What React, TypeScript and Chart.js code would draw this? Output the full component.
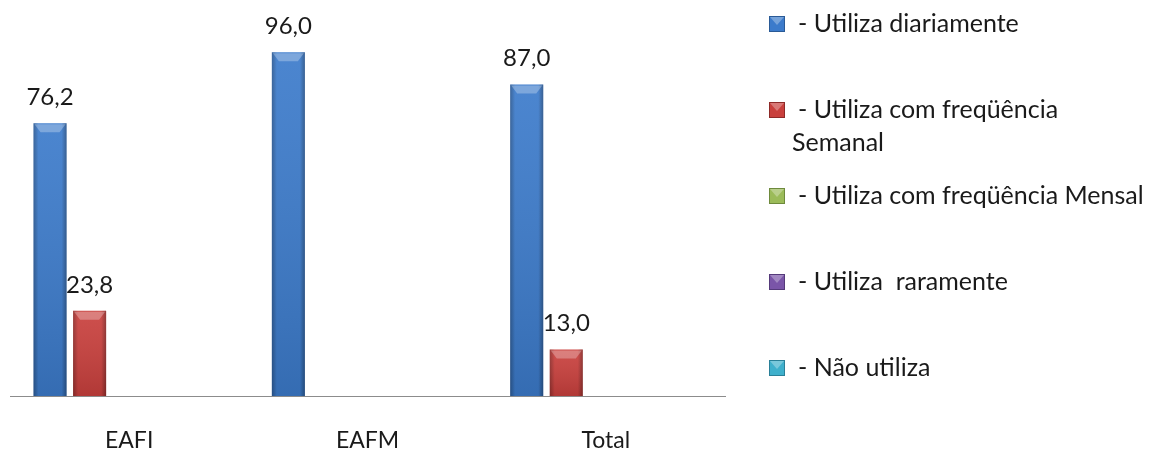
import React, { useEffect, useRef } from "react";
import { Chart, registerables } from "chart.js";

Chart.register(...registerables);

const categories = ["EAFI", "EAFM", "Total"];
const seriesLabels = [
  "- Utiliza diariamente",
  "- Utiliza com freqüência\nSemanal",
  "- Utiliza com freqüência Mensal",
  "- Utiliza  raramente",
  "- Não utiliza",
];
const diariamente = [76.2, 96.0, 87.0];
const semanal = [23.8, null, 13.0];
const mensal = [null, null, null];
const raramente = [null, null, null];
const naoUtiliza = [null, null, null];
const seriesColors = ["#3C7BCB", "#C9403D", "#9BBB59", "#7A55A8", "#3FB0CC"];
const seriesBorders = ["#2A5A96", "#8E2A28", "#6E8A3C", "#553A7A", "#2A8098"];

const FONT = "Lato, 'Open Sans', sans-serif";

const bevelPlugin = {
  id: "bevel",
  afterDatasetsDraw(chart: any) {
    const ctx = chart.ctx;
    chart.data.datasets.forEach((ds: any, di: number) => {
      const meta = chart.getDatasetMeta(di);
      meta.data.forEach((bar: any, i: number) => {
        const v = ds.data[i];
        if (v === null || v === undefined) return;
        const { x, y, width, base } = bar.getProps(["x", "y", "width", "base"], true);
        const l = x - width / 2;
        const r = x + width / 2;
        ctx.save();
        const g = ctx.createLinearGradient(l, 0, r, 0);
        g.addColorStop(0, "rgba(0,0,0,0.28)");
        g.addColorStop(0.15, "rgba(0,0,0,0)");
        g.addColorStop(0.85, "rgba(0,0,0,0)");
        g.addColorStop(1, "rgba(0,0,0,0.32)");
        ctx.fillStyle = g;
        ctx.fillRect(l, y, width, base - y);
        const gv = ctx.createLinearGradient(0, y, 0, base);
        gv.addColorStop(0, "rgba(255,255,255,0.08)");
        gv.addColorStop(1, "rgba(0,0,0,0.12)");
        ctx.fillStyle = gv;
        ctx.fillRect(l, y, width, base - y);
        ctx.beginPath();
        ctx.moveTo(l + 1, y + 1);
        ctx.lineTo(r - 1, y + 1);
        ctx.lineTo(r - 7, y + 9);
        ctx.lineTo(l + 7, y + 9);
        ctx.closePath();
        ctx.fillStyle = "rgba(255,255,255,0.28)";
        ctx.fill();
        ctx.restore();
      });
    });
  },
};

const valueLabelPlugin = {
  id: "valueLabels",
  afterDatasetsDraw(chart: any) {
    const ctx = chart.ctx;
    ctx.save();
    ctx.font = `24px ${FONT}`;
    ctx.fillStyle = "#1a1a1a";
    ctx.textAlign = "center";
    ctx.textBaseline = "middle";
    chart.data.datasets.forEach((ds: any, di: number) => {
      const meta = chart.getDatasetMeta(di);
      meta.data.forEach((bar: any, i: number) => {
        const v = ds.data[i];
        if (v === null || v === undefined) return;
        const { x, y } = bar.getProps(["x", "y"], true);
        ctx.fillText(v.toFixed(1).replace(".", ","), x, y - 26);
      });
    });
    ctx.restore();
  },
};

const legendPlugin = {
  id: "sideLegend",
  afterDraw(chart: any) {
    const ctx = chart.ctx;
    const area = chart.chartArea;
    const sx = area.right + 44;
    ctx.save();
    ctx.font = `25px ${FONT}`;
    ctx.textBaseline = "middle";
    ctx.textAlign = "left";
    seriesLabels.forEach((label, i) => {
      const cy = 24 + i * 86;
      const s = 16;
      ctx.fillStyle = seriesColors[i];
      ctx.fillRect(sx, cy - s / 2, s, s);
      ctx.strokeStyle = seriesBorders[i];
      ctx.lineWidth = 1;
      ctx.strokeRect(sx + 0.5, cy - s / 2 + 0.5, s - 1, s - 1);
      ctx.beginPath();
      ctx.moveTo(sx + 1, cy - s / 2 + 1);
      ctx.lineTo(sx + s - 1, cy - s / 2 + 1);
      ctx.lineTo(sx + s / 2, cy + 1);
      ctx.closePath();
      ctx.fillStyle = "rgba(255,255,255,0.3)";
      ctx.fill();
      ctx.fillStyle = "#1a1a1a";
      const lines = label.split("\n");
      lines.forEach((ln, k) => {
        ctx.fillText(ln, k === 0 ? sx + 29 : sx + 23, cy + k * 33);
      });
    });
    ctx.restore();
  },
};

export default function App() {
  const ref = useRef<HTMLCanvasElement | null>(null);
  useEffect(() => {
    if (!ref.current) return;
    const seriesData = [diariamente, semanal, mensal, raramente, naoUtiliza];
    const chart = new Chart(ref.current, {
      type: "bar",
      data: {
        labels: categories,
        datasets: seriesData.map((d, i) => ({
          label: seriesLabels[i].replace("\n", " "),
          data: d,
          backgroundColor: seriesColors[i],
          borderColor: seriesBorders[i],
          borderWidth: 0,
          barPercentage: 0.835,
          categoryPercentage: 0.83,
        })),
      },
      options: {
        responsive: false,
        maintainAspectRatio: false,
        animation: false,
        layout: { padding: { top: 38, left: 10, right: 430, bottom: 0 } },
        plugins: {
          legend: { display: false },
          tooltip: { enabled: false },
          title: { display: false },
        },
        scales: {
          y: { display: false, min: 0, max: 100 },
          x: {
            grid: { display: false, drawTicks: false },
            border: { display: true, color: "#8c8c8c", width: 1 },
            ticks: { color: "#1a1a1a", font: { family: FONT, size: 23 }, padding: 31 },
            afterFit: (scale: any) => {
              scale.height = 58;
            },
          },
        },
      },
      plugins: [bevelPlugin, valueLabelPlugin, legendPlugin],
    });
    return () => chart.destroy();
  }, []);
  return (
    <div style={{ position: "absolute", left: 0, top: 0, width: 1155, height: 454, background: "#fff" }}>
      <canvas ref={ref} width={1155} height={454} style={{ width: 1155, height: 454, display: "block" }} />
    </div>
  );
}
